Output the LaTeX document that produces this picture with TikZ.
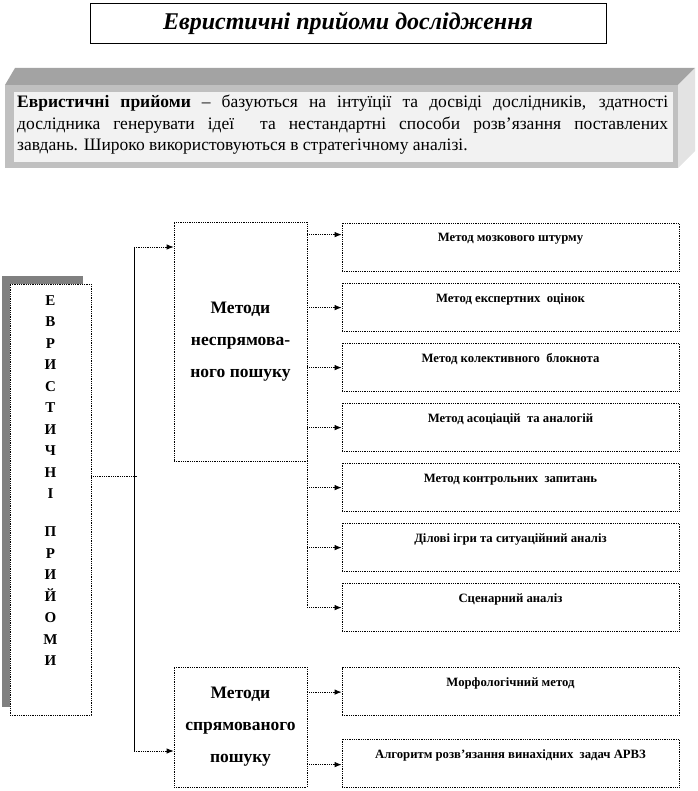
\documentclass[tikz,border=0pt]{standalone}
\usepackage{fontspec}
\setmainfont{Liberation Serif}
\usetikzlibrary{arrows.meta, positioning, calc}
\definecolor{shadowGray}{HTML}{808080}
\definecolor{bevelTop}{HTML}{A3A3A3}
\definecolor{bevelRim}{HTML}{C0C0C0}
\definecolor{bevelSide}{HTML}{E3E3E3}
\definecolor{paperLight}{HTML}{F2F2F2}

\begin{document}
\begin{tikzpicture}[x=1pt, y=-1pt,
    every node/.style={inner sep=0pt},
    dotbox/.style={draw, densely dotted, line width=0.8pt},
    mbox/.style={dotbox, minimum width=337pt, text height=19pt, text depth=29pt,
      font=\fontsize{12.7}{14}\selectfont\bfseries},
    mth/.style={dotbox, minimum width=133pt, align=center,
      font=\fontsize{17.5}{32}\selectfont\bfseries},
    conn/.style={densely dotted, line width=0.8pt},
    arr/.style={conn, -{Latex[length=7pt, width=5.5pt]}}]
    \useasboundingbox (0,0) rectangle (697,791);

    % title
    \node[draw, line width=0.8pt, minimum width=516pt, minimum height=40pt,
      font=\fontsize{24}{28}\selectfont\bfseries\itshape] (ttl) at (348,23)
      {Евристичні прийоми дослідження};

    % bevelled definition panel
    \fill[bevelTop] (15,68) -- (695,68) -- (678,85) -- (5,85) -- cycle;
    \fill[bevelSide] (678,85) -- (695,68) -- (695,151) -- (678,168) -- cycle;
    \fill[bevelRim] (5,85) rectangle (678,168);
    \fill[paperLight] (14,92) rectangle (673,162);
    \node[anchor=north west, text width=651pt, align=justify,
      font=\fontsize{17.5}{21.5}\selectfont] (def) at (17,95) {%
      \textbf{Евристичні прийоми} – базуються на інтуїції та досвіді дослідників, здатності\linebreak
      дослідника генерувати ідеї \ та нестандартні способи розв’язання поставлених\linebreak
      завдань. Широко використовуються в стратегічному аналізі.};

    % left column
    \fill[shadowGray] (2,276) rectangle (83,707);
    \node[dotbox, fill=white, minimum width=81pt, minimum height=431pt] (ev) at (50.5,499.5) {};
    \node[anchor=north, align=center, font=\fontsize{15}{21.5}\selectfont\bfseries] (evtxt) at (50.5,295)
      {Е\\В\\Р\\И\\С\\Т\\И\\Ч\\Н\\І\\[16.5pt]П\\Р\\И\\Й\\О\\М\\И};

    % method groups
    \node[mth, minimum height=239pt] (nsp) at (240.5,341.5) {Методи\\неспрямова-\\ного пошуку};
    \node[mth, minimum height=120pt] (sp) at (240.5,727) {Методи\\спрямованого\\пошуку};

    \foreach \i/\c/\a/\t in {1/247/12/{Метод мозкового штурму},
        2/307/25/{Метод експертних \ оцінок},
        3/367/25/{Метод колективного \ блокнота},
        4/427/25/{Метод асоціацій \ та аналогій},
        5/487/25/{Метод контрольних \ запитань},
        6/547/25/{Ділові ігри та ситуаційний аналіз},
        7/607/25/{Сценарний аналіз},
        8/691.5/25/{Морфологічний метод},
        9/763/26/{Алгоритм розв’язання винахідних \ задач АРВЗ}}{
      \node[mbox] (m\i) at (510.5,\c) {\t};
      \coordinate (a\i) at ($(m\i.north west)+(0,\a)$);
    }

    % connectors
    \coordinate (jn) at (138,476);
    \coordinate (tTop) at (134,247);
    \coordinate (tBot) at (134,751);
    \draw[conn] (jn -| ev.east) -- (jn);
    \draw[line width=0.6pt] (tTop) -- (tBot);
    \draw[arr] (tTop) -- (tTop -| nsp.west);
    \draw[arr] (tBot) -- (tBot -| sp.west);
    \draw[conn] (nsp.south east) -- (a7 -| nsp.east);
    \foreach \i in {1,...,7}
      \draw[arr] (a\i -| nsp.east) -- (a\i);
    \foreach \i in {8,9}
      \draw[arr] (a\i -| sp.east) -- (a\i);
  \end{tikzpicture}
\end{document}
